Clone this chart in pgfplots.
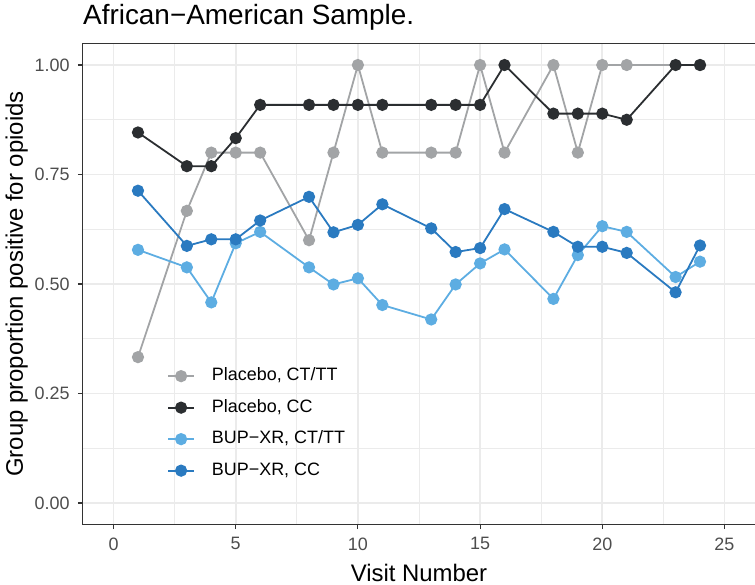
\documentclass[border=0pt]{standalone}
\usepackage{fontspec}
\setmainfont{Liberation Sans}
\usepackage{pgfplots}
\pgfplotsset{compat=1.18}
\definecolor{cgray}{HTML}{A2A4A6}
\definecolor{cblack}{HTML}{2B2E31}
\definecolor{clblue}{HTML}{5DADE2}
\definecolor{cdblue}{HTML}{2A7AC0}
\definecolor{gridc}{HTML}{EBEBEB}
\definecolor{axc}{HTML}{333333}
\definecolor{tickc}{HTML}{4D4D4D}
\begin{document}
\begin{tikzpicture}
\begin{axis}[
  at={(0,0)}, anchor=south west,
  scale only axis, width=672bp, height=480bp,
  xmin=-1.25, xmax=26.25, ymin=-0.048, ymax=1.048,
  xtick={0,5,10,15,20,25}, minor xtick={2.5,7.5,12.5,17.5,22.5},
  ytick={0,0.25,0.5,0.75,1}, minor ytick={0.125,0.375,0.625,0.875},
  grid=both,
  major grid style={line width=1.6bp, draw=gridc},
  minor grid style={line width=0.8bp, draw=gridc},
  axis line style={draw=axc, line width=1bp},
  tick pos=left, tick align=outside,
  major tick length=5bp, minor tick length=0bp,
  every tick/.style={draw=axc, line width=1.1bp},
  /pgf/number format/assume math mode=true,
  tick label style={font=\fontsize{18}{18}\selectfont, text=tickc},
  yticklabel style={xshift=-5bp, /pgf/number format/.cd, fixed, fixed zerofill, precision=2},
  xticklabel style={yshift=-5bp},
  title={African−American Sample.},
  title style={at={(axis description cs:0,1)}, anchor=base west, inner sep=0pt, yshift=14bp, font=\fontsize{28}{28}\selectfont},
  xlabel={Visit Number},
  xlabel style={at={([yshift=-57bp]axis description cs:0.5,0)}, anchor=base, inner sep=0pt, font=\fontsize{24}{24}\selectfont},
  ylabel={Group proportion positive for opioids},
  ylabel style={at={([xshift=-60bp]axis description cs:0,0.5)}, anchor=base, inner sep=0pt, font=\fontsize{24}{24}\selectfont},
  legend cell align=left,
  legend image code/.code={\draw[mark repeat=2,mark phase=2,#1] plot coordinates {(0bp,0bp) (13bp,0bp) (26bp,0bp)};},
  legend style={at={(0.125,0.3256)}, anchor=north west, draw=none, fill=none, inner sep=0pt,
    font=\fontsize{18}{18}\selectfont, row sep=15bp,
    nodes={inner sep=0pt, text height=13bp, text depth=3.5bp},
    /tikz/every odd column/.append style={column sep=17bp}},
  every axis plot/.append style={line width=1.8bp, mark=*},
]
\addplot[cgray, mark options={fill=cgray, draw=none, mark size=5.2bp}] coordinates {
(1,0.333) (3,0.667) (4,0.8) (5,0.8) (6,0.8) (8,0.6) (9,0.8) (10,1.0) (11,0.8) (13,0.8) (14,0.8) (15,1.0) (16,0.8) (18,1.0) (19,0.8) (20,1.0) (21,1.0) (24,1.0)};
\addlegendentry{Placebo, CT/TT}
\addplot[cblack, mark options={fill=cblack, draw=none, mark size=5.2bp}] coordinates {
(1,0.846) (3,0.769) (4,0.769) (5,0.833) (6,0.909) (8,0.909) (9,0.909) (10,0.909) (11,0.909) (13,0.909) (14,0.909) (15,0.909) (16,1.0) (18,0.889) (19,0.889) (20,0.889) (21,0.875) (23,1.0) (24,1.0)};
\addlegendentry{Placebo, CC}
\addplot[clblue, mark options={fill=clblue, draw=none, mark size=5.2bp}] coordinates {
(1,0.578) (3,0.538) (4,0.458) (5,0.593) (6,0.619) (8,0.538) (9,0.499) (10,0.513) (11,0.452) (13,0.419) (14,0.499) (15,0.547) (16,0.579) (18,0.466) (19,0.566) (20,0.632) (21,0.619) (23,0.516) (24,0.551)};
\addlegendentry{BUP−XR, CT/TT}
\addplot[cdblue, mark options={fill=cdblue, draw=none, mark size=5.2bp}] coordinates {
(1,0.713) (3,0.587) (4,0.602) (5,0.602) (6,0.645) (8,0.699) (9,0.618) (10,0.635) (11,0.682) (13,0.627) (14,0.573) (15,0.582) (16,0.671) (18,0.619) (19,0.585) (20,0.585) (21,0.571) (23,0.481) (24,0.588)};
\addlegendentry{BUP−XR, CC}
\end{axis}
\pgfresetboundingbox
\path (-83bp,-61bp) rectangle (672bp,524bp);
\end{tikzpicture}
\end{document}
